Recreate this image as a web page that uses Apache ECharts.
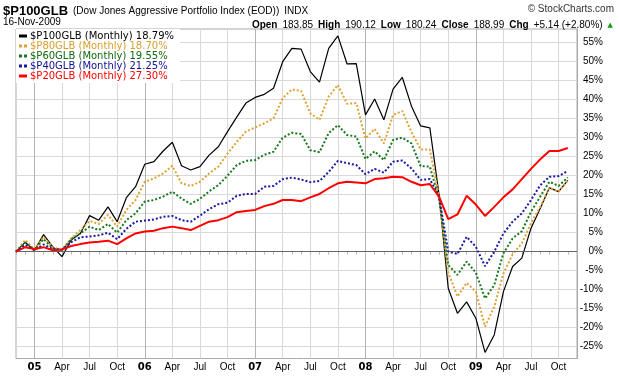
<!DOCTYPE html>
<html>
<head>
<meta charset="utf-8">
<script src="https://cdn.jsdelivr.net/npm/echarts@6/dist/echarts.min.js"></script>
<style>
  html, body { margin: 0; padding: 0; background: #fff; }
  #chart { width: 620px; height: 376px; }
</style>
</head>
<body>
<div id="chart"></div>
<script>
// monthly closes, Nov 2004 .. Nov 2009, % change from first month
const monthNames = ['Jan', 'Feb', 'Mar', 'Apr', 'May', 'Jun', 'Jul', 'Aug', 'Sep', 'Oct', 'Nov', 'Dec']
const startYear = 2004
const startMonth = 10 // Nov
const monthCount = 62 // one empty month after the last close

const seriesNames = ['$P100GLB', '$P80GLB', '$P60GLB', '$P40GLB', '$P20GLB']
const legendPct = [18.79, 18.70, 19.55, 21.25, 27.30]

const p100 = [0, 2.5, 0.4, 4.5, 1.3, -1.3, 3.1, 4.8, 9.5, 8.3, 11.8, 7.9, 14.2, 17.1, 23.0, 23.7, 26.5, 28.8, 22.6, 21.5,
  22.4, 25.4, 27.6, 31.6, 35.4, 39.1, 40.6, 41.4, 43.0, 50.0, 53.5, 53.3, 47.4, 44.6, 53.5, 56.8, 49.4, 49.5, 36.0, 40.2,
  34.7, 42.8, 45.9, 38.3, 33.1, 32.6, 15.0, -9.6, -16.2, -13.2, -17.5, -26.5, -21.9, -10.5, -3.9, -1.7, 6.2, 11.4, 16.8, 15.8,
  18.79]
const p80 = [0, 3.1, 0.6, 3.8, 1.2, 0.4, 3.5, 5.7, 8.1, 7.3, 9.7, 6.6, 11.0, 13.6, 18.4, 19.3, 20.6, 22.6, 18.0, 17.3,
  18.4, 20.6, 22.4, 25.8, 28.9, 31.6, 32.7, 33.8, 35.1, 40.4, 42.7, 42.3, 36.4, 34.7, 40.8, 43.9, 38.9, 39.1, 29.8, 32.3,
  28.5, 36.0, 37.0, 31.5, 26.9, 26.9, 14.5, -5.5, -11.8, -8.2, -10.5, -19.7, -14.5, -5.7, -0.7, 2.2, 7.5, 11.8, 16.8, 15.8,
  18.70]
const p60 = [0, 2.4, 0.4, 3.3, 0.9, 0.5, 3.3, 4.8, 6.6, 5.7, 7.3, 5.0, 8.3, 10.1, 13.2, 13.6, 14.5, 15.8, 14.0, 12.6,
  13.9, 15.9, 17.5, 20.0, 22.8, 23.9, 24.1, 25.5, 26.3, 30.0, 31.3, 31.0, 26.7, 26.2, 31.2, 33.3, 30.7, 30.3, 24.4, 26.4,
  24.1, 29.4, 30.0, 28.5, 22.5, 22.4, 14.0, -3.5, -6.1, -2.6, -5.5, -12.3, -8.8, -0.4, 3.5, 5.4, 10.5, 14.5, 18.4, 17.3,
  19.55]
const p40 = [0, 1.8, 0.4, 1.9, 0.7, 0.5, 2.5, 3.8, 4.0, 4.3, 5.0, 3.3, 6.0, 7.9, 8.2, 8.5, 9.2, 9.4, 8.3, 7.9,
  9.5, 11.2, 12.5, 12.9, 14.7, 15.2, 15.2, 17.1, 17.3, 19.1, 19.5, 19.0, 18.3, 18.6, 21.0, 23.9, 23.3, 22.8, 20.4, 21.8,
  20.8, 23.7, 24.0, 21.9, 18.9, 19.1, 14.5, 0.0, -0.6, 3.9, 1.3, -3.8, 0.0, 4.8, 7.9, 10.1, 13.6, 17.5, 19.7, 19.9,
  21.25]
const p20 = [0, 1.2, 0.7, 1.2, 0.4, 0.6, 1.5, 2.0, 2.4, 2.6, 2.9, 2.0, 3.5, 4.8, 5.3, 5.5, 6.2, 6.6, 6.2, 5.7,
  6.8, 7.9, 8.3, 9.1, 10.4, 10.7, 11.0, 12.0, 12.6, 13.6, 13.6, 13.3, 14.3, 15.2, 16.7, 18.0, 18.4, 18.2, 18.0, 19.1,
  19.3, 19.7, 19.6, 18.4, 17.5, 17.8, 14.5, 8.6, 9.8, 14.7, 12.4, 9.4, 11.8, 14.3, 16.4, 19.1, 21.8, 24.3, 26.5, 26.5,
  27.30]

const yTicks = [-25, -20, -15, -10, -5, 0, 5, 10, 15, 20, 25, 30, 35, 40, 45, 50, 55]

const categories = []
for (let i = 0; i < monthCount; i++) {
  const m = (startMonth + i) % 12
  const y = startYear + Math.floor((startMonth + i) / 12)
  categories.push(monthNames[m] + ' ' + y)
}
const isQuarter = (idx) => [0, 3, 6, 9].includes((startMonth + idx) % 12)
const isYear = (idx) => (startMonth + idx) % 12 === 0

const colors = ['#000000', '#e0a234', '#18781c', '#1a1aa0', '#ff0000']
const textColors = ['#000000', '#d9a02c', '#106810', '#101090', '#ff0000']
const dotIcon = 'path://M0,0h3v3h-3z M5,0h3v3h-3z'
const barIcon = 'path://M0,0h8v3h-8z'
const data = [p100, p80, p60, p40, p20]

const chart = echarts.init(document.getElementById('chart'), null, { renderer: 'canvas' })

const option = {
  animation: false,
  backgroundColor: '#fff',
  textStyle: { fontFamily: 'Liberation Sans, Arial, sans-serif' },
  title: [
    {
      left: 3, top: 2, padding: 0,
      text: '{b|$P100GLB} {n|(Dow Jones Aggressive Portfolio Index (EOD))} {n|INDX}',
      textStyle: {
        rich: {
          b: { fontSize: 13, fontWeight: 'bold', color: '#000', fontFamily: 'Liberation Sans' },
          n: { fontSize: 10, fontWeight: 'normal', color: '#000', fontFamily: 'Liberation Sans' },
        },
      },
    },
    {
      right: 6, top: 4, padding: 0,
      text: '© StockCharts.com',
      textStyle: { fontSize: 10, fontWeight: 'normal', color: '#333', fontFamily: 'Liberation Sans' },
    },
    {
      left: 3, top: 17, padding: 0,
      text: '16-Nov-2009',
      textStyle: { fontSize: 10, fontWeight: 'normal', color: '#000', fontFamily: 'Liberation Sans' },
    },
    {
      right: 7, top: 16, padding: 0,
      text: '{b|Open} {n|183.85} {b|High} {n|190.12} {b|Low} {n|180.24} {b|Close} {n|188.99} {b|Chg} {n|+5.14 (+2.80%)} {g|▲}',
      textStyle: {
        rich: {
          b: { fontSize: 10, fontWeight: 'bold', color: '#000', fontFamily: 'Liberation Sans' },
          n: { fontSize: 10, fontWeight: 'normal', color: '#000', fontFamily: 'Liberation Sans' },
          g: { fontSize: 7, fontWeight: 'normal', color: '#10a010', fontFamily: 'DejaVu Sans' },
        },
      },
    },
  ],
  legend: {
    orient: 'vertical',
    left: 16, top: 29,
    padding: [2, 6, 2, 3],
    itemGap: 0,
    itemWidth: 8,
    itemHeight: 3,
    backgroundColor: '#fff',
    selectedMode: false,
    data: seriesNames.map((n, i) => ({
      name: n,
      icon: i === 0 || i === 4 ? barIcon : dotIcon,
      itemStyle: { color: colors[i] },
      textStyle: { color: textColors[i] },
    })),
    formatter: (name) => {
      const i = seriesNames.indexOf(name)
      return name + ' (Monthly) ' + legendPct[i].toFixed(2) + '%'
    },
    textStyle: { fontFamily: 'DejaVu Sans', fontSize: 10, lineHeight: 10, padding: [0, 0, 0, -2] },
  },
  grid: { left: 16, right: 43, top: 29, bottom: 17.5, show: true, borderColor: '#aaa', borderWidth: 1 },
  xAxis: [
    {
      type: 'category',
      data: categories,
      boundaryGap: false,
      axisLine: { show: true, lineStyle: { color: '#999' } },
      axisTick: { show: true, interval: 0, length: 3, lineStyle: { color: '#bbb' } },
      axisLabel: {
        interval: (idx) => isQuarter(idx),
        margin: 4,
        fontSize: 10,
        color: '#000',
        formatter: (v) => {
          const parts = v.split(' ')
          if (parts[0] === 'Jan') return '{y|' + parts[1].slice(2) + '}'
          return parts[0]
        },
        rich: { y: { fontSize: 10, fontWeight: 'bold', color: '#000', fontFamily: 'DejaVu Sans' } },
      },
      splitLine: { show: true, interval: (idx) => isQuarter(idx) && !isYear(idx), lineStyle: { color: '#d9d9d9', width: 1 } },
    },
    {
      type: 'category',
      data: categories,
      boundaryGap: false,
      position: 'bottom',
      axisLine: { show: false },
      axisTick: { show: false },
      axisLabel: { show: false },
      splitLine: { show: true, interval: (idx) => isYear(idx), lineStyle: { color: '#b4b4b4', width: 1 } },
    },
  ],
  yAxis: {
    type: 'value',
    position: 'right',
    min: -28.1,
    max: 58.6,
    axisLine: { show: true, lineStyle: { color: '#aaa' } },
    axisTick: { show: false, customValues: yTicks },
    axisLabel: {
      customValues: yTicks,
      align: 'right',
      margin: 26,
      fontSize: 10,
      color: '#000',
      formatter: (v) => v + '%',
    },
    splitLine: { show: true, lineStyle: { color: '#d9d9d9', width: 1 } },
  },
  series: data.map((d, i) => ({
    name: seriesNames[i],
    type: 'line',
    data: d,
    symbol: 'none',
    xAxisIndex: 0,
    lineStyle: {
      color: colors[i],
      width: i === 0 ? 1.2 : 2,
      type: i === 0 || i === 4 ? 'solid' : 'dotted',
    },
    itemStyle: { color: colors[i] },
    z: 2 + i,
    markLine: i === 0 ? {
      silent: true, symbol: 'none', label: { show: false },
      lineStyle: { color: '#666', width: 1, type: 'solid' },
      data: [{ yAxis: 0 }],
    } : undefined,
  })),
}

chart.setOption(option)
</script>
</body>
</html>
